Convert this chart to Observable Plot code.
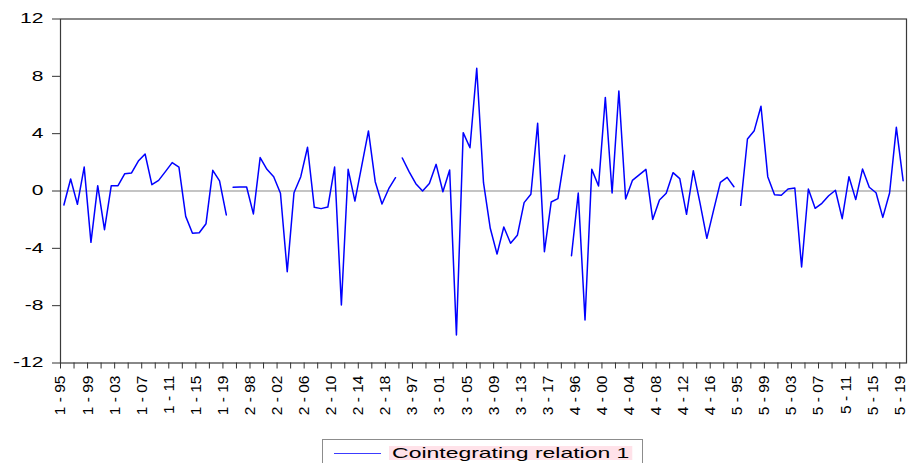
<!DOCTYPE html>
<html>
<head>
<meta charset="utf-8">
<script src="https://cdn.jsdelivr.net/npm/d3@7"></script>
<script src="https://cdn.jsdelivr.net/npm/@observablehq/plot@0.6"></script>
<style>
  html, body { margin: 0; padding: 0; background: #fff; }
  body { position: relative; width: 912px; height: 463px; overflow: hidden; font-family: "Liberation Sans", Arial, sans-serif; }
  #chart svg { display: block; }
  #legend { position: absolute; left: 322px; top: 439px; width: 319px; height: 40px; border: 1px solid #8c8c8c; background: #fff; }
  #legend .swatch { position: absolute; left: 11px; top: 13px; width: 47px; height: 1.3px; background: #3c3cff; }
  #legend .lbl { position: absolute; left: 66px; top: 6px; height: 14px; line-height: 14px; font-size: 15px; padding: 0 2px; background: #ffe2e9; color: #000; white-space: nowrap; transform: scaleX(1.53); transform-origin: 0 0; font-family: "Liberation Sans", Arial, sans-serif; }
</style>
</head>
<body>
<div id="chart"></div>
<div id="legend"><div class="swatch"></div><span class="lbl">Cointegrating relation 1</span></div>
<script>
// ---- data ----
const crossSections = [1, 2, 3, 4, 5];
const years = d3.range(1995, 2020); // 25 years per cross-section
const section1 = [-0.98, 0.84, -0.93, 1.67, -3.58, 0.37, -2.70, 0.37, 0.37, 1.21, 1.26, 2.09, 2.58, 0.44, 0.74, 1.35, 1.98, 1.67, -1.77, -2.95, -2.91, -2.28, 1.44, 0.70, -1.67];
const section2 = [0.26, 0.28, 0.28, -1.60, 2.33, 1.51, 1.00, -0.16, -5.63, -0.12, 1.00, 3.05, -1.14, -1.23, -1.12, 1.67, -7.95, 1.51, -0.70, 1.74, 4.19, 0.65, -0.91, 0.16, 0.93];
const section3 = [2.30, 1.35, 0.51, 0.00, 0.53, 1.86, -0.05, 1.47, -10.05, 4.07, 3.02, 8.56, 0.58, -2.60, -4.40, -2.51, -3.65, -3.09, -0.81, -0.23, 4.72, -4.23, -0.77, -0.53, 2.49];
const section4 = [-4.51, -0.14, -9.00, 1.51, 0.35, 6.53, -0.14, 6.98, -0.56, 0.74, 1.12, 1.51, -1.98, -0.63, -0.16, 1.28, 0.86, -1.63, 1.42, -0.86, -3.30, -1.33, 0.60, 0.95, 0.30];
const section5 = [-1.00, 3.63, 4.21, 5.91, 1.00, -0.26, -0.30, 0.14, 0.21, -5.30, 0.14, -1.21, -0.86, -0.33, 0.05, -1.93, 1.00, -0.60, 1.53, 0.26, -0.12, -1.84, -0.14, 4.44, 0.72];
const tickLabels = ["1 - 95","1 - 99","1 - 03","1 - 07","1 - 11","1 - 15","1 - 19",
  "2 - 98","2 - 02","2 - 06","2 - 10","2 - 14","2 - 18",
  "3 - 97","3 - 01","3 - 05","3 - 09","3 - 13","3 - 17",
  "4 - 96","4 - 00","4 - 04","4 - 08","4 - 12","4 - 16",
  "5 - 95","5 - 99","5 - 03","5 - 07","5 - 11","5 - 15","5 - 19"];
const yTicks = [-12, -8, -4, 0, 4, 8, 12];

// ---- build table ----
const sections = [section1, section2, section3, section4, section5];
const data = [];
sections.forEach((vals, s) => vals.forEach((v, j) => data.push({obs: s * years.length + j, section: crossSections[s], year: years[j], value: v})));
const nObs = data.length;
const minorTicks = d3.range(0, nObs, 2).map(i => i - 0.5);
const labelData = tickLabels.map((t, k) => ({pos: k * 4 - 0.5, label: t}));

const H = 435;
const plot = Plot.plot({
  width: 912,
  height: H,
  marginLeft: 60,
  marginRight: 6,
  marginTop: 18.5,
  marginBottom: H - 362.5,
  style: {fontFamily: "'Liberation Sans', Arial, sans-serif", background: "#fff", color: "#000"},
  x: {domain: [-0.5, nObs - 0.5], axis: null},
  y: {domain: [-12, 12], axis: null},
  marks: [
    Plot.ruleY([0], {stroke: "#8a8a8a", strokeWidth: 1.2}),
    Plot.line(data, {x: "obs", y: "value", z: "section", stroke: "#0000ff", strokeWidth: 1.5}),
    Plot.frame({stroke: "#3a3a3a", strokeWidth: 1.2}),
    Plot.axisY(yTicks, {tickSize: 8, tickPadding: 9, fontSize: 14, label: null, stroke: "#333", tickFormat: d => String(d)}),
    Plot.axisX(minorTicks, {tickSize: 6, tickFormat: () => "", label: null, stroke: "#333"}),
    Plot.text(labelData, {x: "pos", text: "label", frameAnchor: "bottom", dy: 12.5, rotate: -90, textAnchor: "end", lineAnchor: "middle", fontSize: 15.5, fill: "#000"})
  ]
});
document.getElementById("chart").appendChild(plot);

// widen y tick labels horizontally as in the reference
plot.querySelectorAll('g[aria-label="y-axis tick label"] text').forEach(t => {
  const w = t.getComputedTextLength();
  t.setAttribute("textLength", (w * 1.5).toFixed(1));
  t.setAttribute("lengthAdjust", "spacingAndGlyphs");
});
</script>
</body>
</html>
